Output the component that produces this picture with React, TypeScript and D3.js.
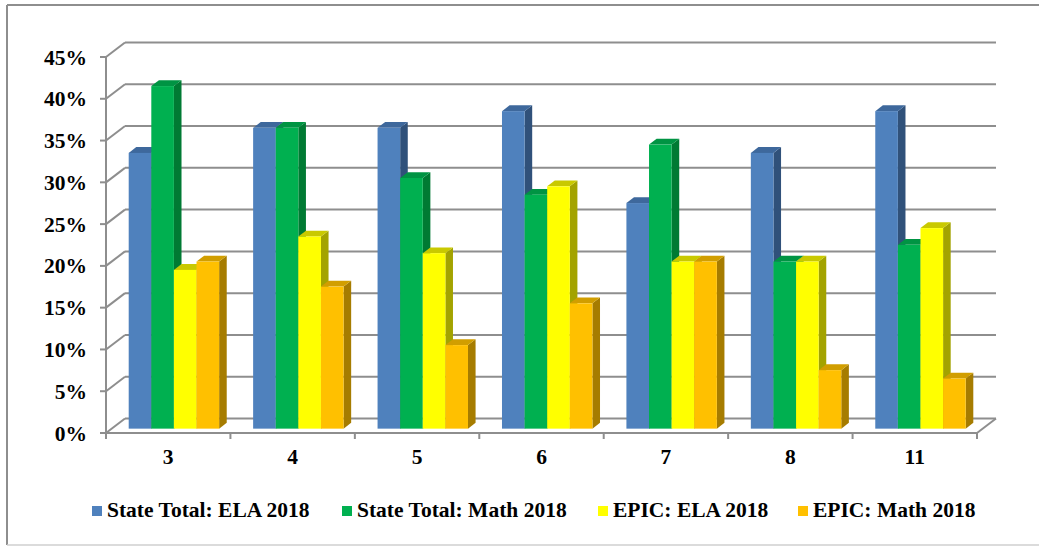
import React from "react";
import * as d3 from "d3";

const grades = ["3", "4", "5", "6", "7", "8", "11"];
const seriesNames = [
  "State Total: ELA 2018",
  "State Total: Math 2018",
  "EPIC: ELA 2018",
  "EPIC: Math 2018",
];
const stateEla = [0.33, 0.36, 0.36, 0.38, 0.27, 0.33, 0.38];
const stateMath = [0.41, 0.36, 0.3, 0.28, 0.34, 0.2, 0.22];
const epicEla = [0.19, 0.23, 0.21, 0.29, 0.2, 0.2, 0.24];
const epicMath = [0.2, 0.17, 0.1, 0.15, 0.2, 0.07, 0.06];
const yTicks = [0, 0.05, 0.1, 0.15, 0.2, 0.25, 0.3, 0.35, 0.4, 0.45];

const seriesValues = [stateEla, stateMath, epicEla, epicMath];
// front / top / side colours per series
const fills = ["#4F81BD", "#00B050", "#FFFF00", "#FFC000"];
const tops = ["#3E689C", "#009443", "#C9C900", "#D19E00"];
const sides = ["#30517A", "#007A33", "#A3A300", "#A67C00"];
const legendX = [92, 342, 598, 798];

const FONT = "'Liberation Serif', 'Times New Roman', serif";
const GRID = "#8E8E8E";

// 3d depth of the plot box
const DX = 19;
const DY = 14.5;
// bar front plane and bar depth as fraction of box depth
const F0 = 0.3;
const FD = 0.4;

export default function App() {
  const y = d3.scaleLinear().domain([0, 0.45]).range([433, 57]);
  const x = d3.scaleBand<string>().domain(grades).range([106, 977]);
  const inner = d3
    .scaleBand<number>()
    .domain([0, 1, 2, 3])
    .range([17, x.bandwidth() - 17]);

  const x0 = 106;
  const x1 = 977;
  const bx = DX * F0;
  const by = DY * F0;
  const ddx = DX * FD;
  const ddy = DY * FD;

  const bars: React.ReactNode[] = [];
  grades.forEach((g, gi) => {
    seriesValues.forEach((vals, si) => {
      const v = vals[gi];
      const left = (x(g) as number) + inner(si)! + bx;
      const w = inner.bandwidth();
      const top = y(v) - by;
      const bottom = y(0) - by;
      const right = left + w;
      bars.push(
        <g key={`${gi}-${si}`}>
          <polygon
            points={`${right},${top} ${right + ddx},${top - ddy} ${right + ddx},${bottom - ddy} ${right},${bottom}`}
            fill={sides[si]}
          />
          <polygon
            points={`${left},${top} ${left + ddx},${top - ddy} ${right + ddx},${top - ddy} ${right},${top}`}
            fill={tops[si]}
          />
          <rect x={left} y={top} width={w} height={bottom - top} fill={fills[si]} />
        </g>
      );
    });
  });

  const textStyle = {
    fontFamily: FONT,
    fontWeight: 700,
    fontSize: 21.5,
  };

  return (
    <div style={{ position: "absolute", left: 0, top: 0 }}>
      <svg width={1039} height={546} style={{ display: "block", background: "#fff" }}>
        {/* outer frame */}
        <line x1={7} y1={5} x2={1039} y2={5} stroke={GRID} strokeWidth={2} />
        <line x1={7} y1={5} x2={7} y2={545} stroke={GRID} strokeWidth={2} />
        <line x1={7} y1={545} x2={1039} y2={545} stroke="#CFCFCF" strokeWidth={1.5} />

        {/* back wall gridlines and left wall */}
        {yTicks.map((t) => (
          <g key={t}>
            <line x1={x0 + DX} y1={y(t) - DY} x2={x1 + DX} y2={y(t) - DY} stroke={GRID} strokeWidth={2} />
            <line x1={x0} y1={y(t)} x2={x0 + DX} y2={y(t) - DY} stroke={GRID} strokeWidth={2} />
            <line x1={x0 - 6} y1={y(t)} x2={x0} y2={y(t)} stroke={GRID} strokeWidth={2} />
            <text x={87} y={y(t)} dy="0.35em" textAnchor="end" fill="#000" style={textStyle}>
              {`${Math.round(t * 100)}%`}
            </text>
          </g>
        ))}

        {/* floor */}
        <line x1={x1} y1={y(0)} x2={x1 + DX} y2={y(0) - DY} stroke={GRID} strokeWidth={2} />
        <line x1={x0} y1={y(0.45)} x2={x0} y2={y(0)} stroke={GRID} strokeWidth={2} />

        {bars}

        <line x1={x0} y1={y(0)} x2={x1} y2={y(0)} stroke={GRID} strokeWidth={2} />
        {[...grades.map((g) => x(g) as number), x1].map((t, i) => (
          <line key={i} x1={t} y1={y(0)} x2={t} y2={y(0) + 6} stroke={GRID} strokeWidth={2} />
        ))}
        {grades.map((g) => (
          <text
            key={g}
            x={(x(g) as number) + x.bandwidth() / 2}
            y={464}
            textAnchor="middle"
            fill="#000"
            style={textStyle}
          >
            {g}
          </text>
        ))}

        {/* legend */}
        {seriesNames.map((name, i) => (
          <g key={name}>
            <rect x={legendX[i]} y={506} width={10} height={10} fill={fills[i]} />
            <text x={legendX[i] + 15} y={517} fill="#000" style={textStyle}>
              {name}
            </text>
          </g>
        ))}
      </svg>
    </div>
  );
}
